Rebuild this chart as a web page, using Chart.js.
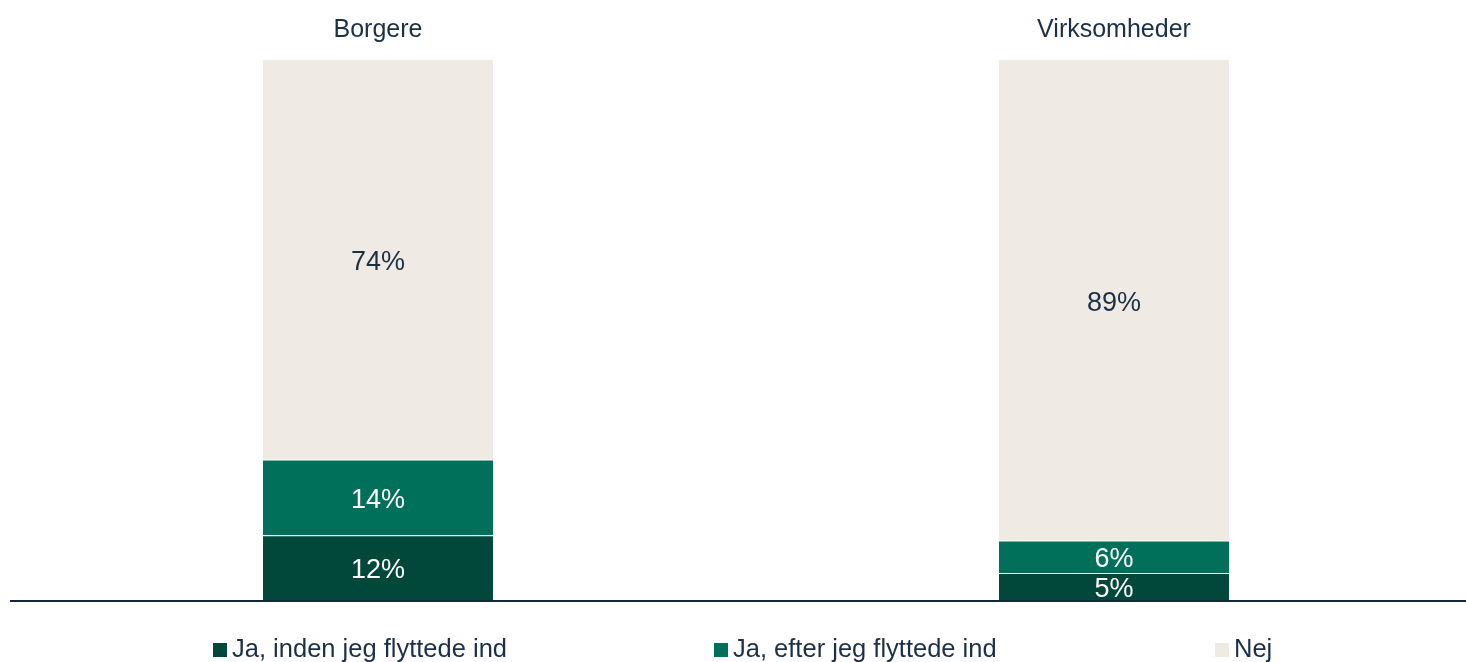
<!DOCTYPE html>
<html>
<head>
<meta charset="utf-8">
<script src="https://cdn.jsdelivr.net/npm/chart.js@4.4.1/dist/chart.umd.min.js"></script>
<style>
    html, body { margin: 0; padding: 0; background: #fff; overflow: hidden; }
    #wrap { position: relative; width: 1466px; height: 662px; overflow: hidden; }
    #wrap canvas { position: absolute; left: 0; top: 0; }
    #legend { position: absolute; left: 213px; top: 634px; display: flex; font-family: "Liberation Sans", Arial, sans-serif; font-size: 25.5px; color: #1b3047; }
    .item { width: 501px; display: flex; align-items: center; white-space: nowrap; }
    .box { width: 14px; height: 14px; margin-right: 5px; margin-top: 2px; flex: none; }
</style>
</head>
<body>
<div id="wrap">
    <canvas id="chart" width="1482" height="662"></canvas>
    <div id="legend"></div>
</div>
<script>
const categories = ['Borgere', 'Virksomheder'];
const seriesLabels = ['Ja, inden jeg flyttede ind', 'Ja, efter jeg flyttede ind', 'Nej'];
const beforeValues = [12, 5];
const afterValues = [14, 6];
const noValues = [74, 89];

const colors = ['#01473a', '#00705b', '#efebe4'];
const labelColors = ['#ffffff', '#ffffff', '#1b3047'];
const textColor = '#1b3047';
const fontFamily = '"Liberation Sans", Arial, sans-serif';

// values written in the middle of each segment
const segmentLabels = {
    id: 'segmentLabels',
    afterDatasetsDraw(chart) {
        const ctx = chart.ctx;
        ctx.save();
        ctx.font = '27px ' + fontFamily;
        ctx.textAlign = 'center';
        ctx.textBaseline = 'middle';
        chart.data.datasets.forEach((ds, i) => {
            chart.getDatasetMeta(i).data.forEach((bar, j) => {
                const mid = (bar.y + bar.base) / 2;
                ctx.fillStyle = labelColors[i];
                ctx.fillText(ds.data[j] + '%', bar.x, mid + 3);
            });
        });
        ctx.restore();
    }
};

// dark baseline under the bars
const baseline = {
    id: 'baseline',
    afterDraw(chart) {
        const ctx = chart.ctx;
        const y = chart.scales.y.getPixelForValue(0);
        ctx.save();
        ctx.strokeStyle = '#14283c';
        ctx.lineWidth = 2;
        ctx.beginPath();
        ctx.moveTo(10, y + 1);
        ctx.lineTo(1466, y + 1);
        ctx.stroke();
        ctx.restore();
    }
};

const datasets = [beforeValues, afterValues, noValues].map((vals, i) => ({
    label: seriesLabels[i],
    data: vals,
    backgroundColor: colors[i],
    borderColor: 'rgba(255,255,255,0.35)',
    borderWidth: { top: i < 2 ? 1 : 0 },
    borderSkipped: false,
    categoryPercentage: 1,
    barPercentage: 0.3125
}));

new Chart(document.getElementById('chart'), {
    type: 'bar',
    data: { labels: categories, datasets: datasets },
    options: {
        responsive: false,
        animation: false,
        layout: { padding: { left: 10, right: 0, top: 0, bottom: 62 } },
        plugins: {
            legend: { display: false },
            tooltip: { enabled: false }
        },
        scales: {
            x: {
                position: 'top',
                stacked: true,
                grid: { display: false, drawTicks: false },
                border: { display: false },
                ticks: { color: textColor, font: { family: fontFamily, size: 25 }, padding: 15 }
            },
            y: {
                stacked: true,
                display: false,
                min: 0,
                max: 100
            }
        }
    },
    plugins: [segmentLabels, baseline]
});

const legend = document.getElementById('legend');
seriesLabels.forEach((label, i) => {
    const item = document.createElement('div');
    item.className = 'item';
    item.innerHTML = '<span class="box" style="background:' + colors[i] + '"></span>' + label;
    legend.appendChild(item);
});
</script>
</body>
</html>
